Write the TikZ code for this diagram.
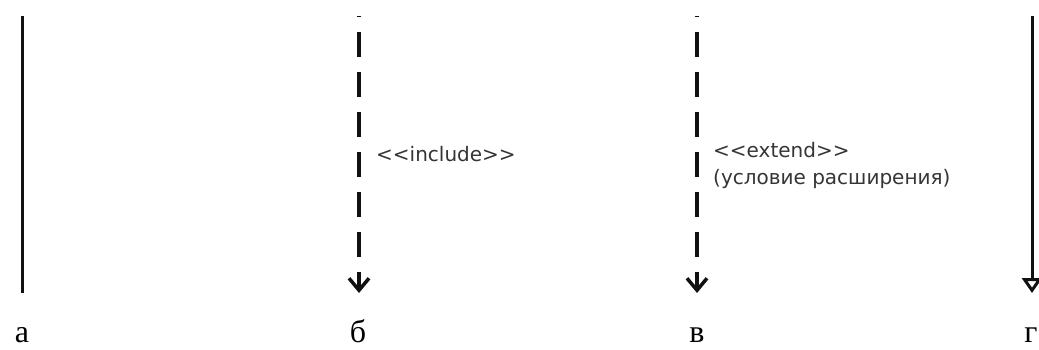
\documentclass[tikz,border=0pt]{standalone}
\usepackage{fontspec}
\setmainfont{Liberation Serif}
\newfontfamily\umlfont{DejaVu Sans}
\usetikzlibrary{arrows.meta,positioning}
\definecolor{ink}{HTML}{111111}
\tikzset{
  solidline/.style={draw=ink, line width=3pt},
  dashline/.style={draw=ink, line width=3.5pt, dash pattern=on 25pt off 15pt, dash phase=24pt},
  depends/.style={dashline, -{Straight Barb[length=12pt,width=20pt]}},
  inherits/.style={solidline, -{Triangle[open,length=15pt,width=20pt,line width=3pt]}},
  letter/.style={inner sep=0pt, anchor=base, font=\fontsize{32}{38}\selectfont},
  stereo/.style={inner sep=0pt, anchor=base west, align=left, text=ink!85,
    font=\umlfont\fontsize{20}{27}\selectfont}
}

\begin{document}
\begin{tikzpicture}[x=1pt, y=-1pt]
  \useasboundingbox (0,0) rectangle (1039,350);
  % a: association
  \coordinate (assocTop) at (22,16);
  \coordinate (assocEnd) at (22,293);
  \draw[solidline] (assocTop) -- (assocEnd);
  \node[letter] (labA) at (22,342) {а};
  % b: include
  \coordinate (inclTop) at (359,16);
  \coordinate (inclEnd) at (359,293);
  \draw[depends] (inclTop) -- (inclEnd);
  \node[stereo] (inclText) at (376,162) {<<include>>};
  \node[letter] (labB) at (358,342) {б};
  % c: extend
  \coordinate (extTop) at (697,16);
  \coordinate (extEnd) at (697,293);
  \draw[depends] (extTop) -- (extEnd);
  \node[stereo] (extText) at (713,184) {<<extend>>\\(условие расширения)};
  \node[letter] (labC) at (697,342) {в};
  % d: generalization
  \coordinate (genTop) at (1032,16);
  \coordinate (genEnd) at (1032,293);
  \draw[inherits] (genTop) -- (genEnd);
  \node[letter] (labD) at (1031,342) {г};
\end{tikzpicture}
\end{document}
